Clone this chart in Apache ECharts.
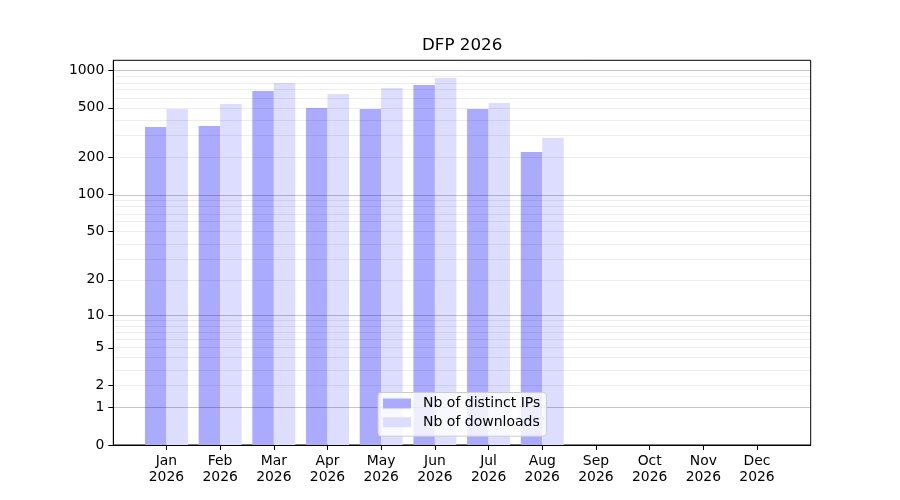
<!DOCTYPE html>
<html>
<head>
    <meta charset="utf-8">
    <title>DFP 2026</title>
    <script src="https://cdn.jsdelivr.net/npm/echarts@6/dist/echarts.min.js"></script>
    <style>
        html, body { margin: 0; padding: 0; background: #fff; }
        #main { width: 900px; height: 500px; }
    </style>
</head>
<body>
<div id="main"></div>

<script type="text/javascript">
    // 月份与数值
    var months = ['Jan', 'Feb', 'Mar', 'Apr', 'May', 'Jun', 'Jul', 'Aug', 'Sep', 'Oct', 'Nov', 'Dec'];
    var year = '2026';
    var distinctIps = [351, 357, 682, 498, 489, 762, 489, 221];
    var downloads = [489, 537, 791, 645, 721, 867, 547, 287];

    // y轴刻度与网格线
    var yTicks = [0, 1, 2, 5, 10, 20, 50, 100, 200, 500, 1000];
    var majorGrid = [1, 10, 100, 1000];
    var minorGrid = [2, 3, 4, 5, 6, 7, 8, 9, 20, 30, 40, 50, 60, 70, 80, 90, 200, 300, 400, 500, 600, 700, 800, 900];

    // y = log10(1 + x) 变换
    function tf(v) { return Math.log10(1 + v); }

    function toPoints(arr) {
        var out = [];
        for (var i = 0; i < arr.length; i++) {
            out.push([i, tf(arr[i])]);
        }
        return out;
    }

    var gridLines = [];
    for (var i = 0; i < minorGrid.length; i++) {
        gridLines.push({ yAxis: tf(minorGrid[i]), lineStyle: { color: 'rgba(0,0,0,0.07)' } });
    }
    for (var i = 0; i < majorGrid.length; i++) {
        gridLines.push({ yAxis: tf(majorGrid[i]), lineStyle: { color: 'rgba(0,0,0,0.22)' } });
    }

    var monthIdx = months.map(function (m, i) { return i; });
    var font = 'DejaVu Sans';

    var myChart = echarts.init(document.getElementById('main'));
    myChart.setOption({
        animation: false,
        title: {
            text: 'DFP 2026',
            left: 422,
            top: 37,
            padding: 0,
            textStyle: { fontFamily: font, fontSize: 16.7, fontWeight: 'normal', color: '#000' }
        },
        legend: {
            orient: 'vertical',
            left: 378,
            top: 392.5,
            z: 10,
            padding: [4, 6, 7, 5],
            icon: 'rect',
            itemWidth: 28,
            itemHeight: 10,
            itemGap: 4.7,
            backgroundColor: 'rgba(255,255,255,0.8)',
            borderColor: '#cccccc',
            borderWidth: 1,
            borderRadius: 3,
            textStyle: { fontFamily: font, fontSize: 14, color: '#000', padding: [0, 0, 0, 7] },
            data: ['Nb of distinct IPs', 'Nb of downloads']
        },
        grid: {
            left: 113.3,
            right: 89.3,
            top: 60.3,
            bottom: 55,
            show: true,
            borderColor: '#000',
            borderWidth: 1,
            containLabel: false
        },
        xAxis: {
            type: 'value',
            min: -0.99,
            max: 12,
            axisLine: { show: true, onZero: false, lineStyle: { color: '#000', width: 1 } },
            axisTick: { show: true, length: 5, customValues: monthIdx, lineStyle: { color: '#000' } },
            axisLabel: {
                customValues: monthIdx,
                margin: 8,
                fontFamily: font,
                fontSize: 13.9,
                lineHeight: 16,
                color: '#000',
                formatter: function (v) { return months[Math.round(v)] + '\n' + year; }
            },
            splitLine: { show: false }
        },
        yAxis: {
            type: 'value',
            min: 0,
            max: 3.08,
            axisLine: { show: true, onZero: false, lineStyle: { color: '#000', width: 1 } },
            axisTick: { show: true, length: 5, customValues: yTicks.map(tf), lineStyle: { color: '#000' } },
            axisLabel: {
                customValues: yTicks.map(tf),
                margin: 9,
                fontFamily: font,
                fontSize: 13.9,
                color: '#000',
                formatter: function (v) { return String(Math.round(Math.pow(10, v) - 1)); }
            },
            splitLine: { show: false }
        },
        series: [{
            name: 'Nb of distinct IPs',
            type: 'bar',
            barWidth: '40%',
            barGap: '0%',
            itemStyle: { color: '#aaaaff' },
            data: toPoints(distinctIps),
            markLine: {
                silent: true,
                symbol: ['none', 'none'],
                label: { show: false },
                lineStyle: { type: 'solid', width: 1 },
                data: gridLines
            }
        }, {
            name: 'Nb of downloads',
            type: 'bar',
            barWidth: '40%',
            barGap: '0%',
            itemStyle: { color: '#ddddff' },
            data: toPoints(downloads)
        }]
    });
</script>
</body>
</html>
